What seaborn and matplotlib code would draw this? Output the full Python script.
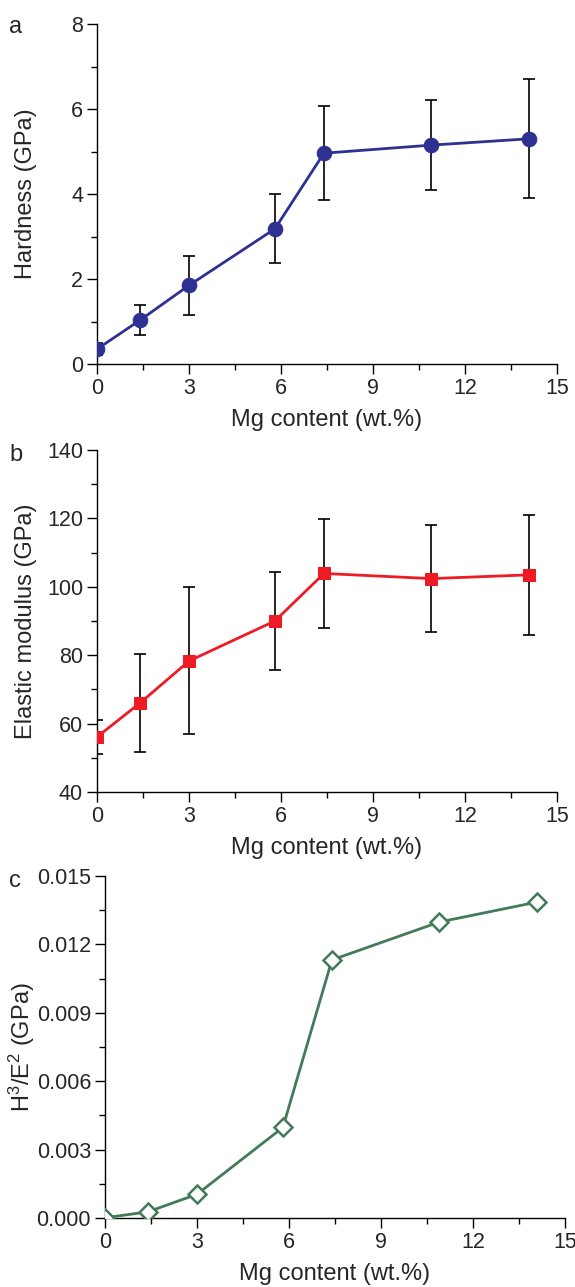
import numpy as np
import pandas as pd
import matplotlib
matplotlib.use("Agg")
import matplotlib.pyplot as plt
from matplotlib.ticker import MultipleLocator, FormatStrFormatter
import seaborn as sns

# Mg content of the coatings (wt.%)
mg_content = [0.0, 1.4, 3.0, 5.8, 7.4, 10.9, 14.1]

# Nanoindentation hardness (GPa) with error bar ends
hardness = [0.35, 1.03, 1.85, 3.18, 4.96, 5.15, 5.30]
hardness_lo = [0.21, 0.68, 1.15, 2.38, 3.87, 4.10, 3.91]
hardness_hi = [0.50, 1.38, 2.54, 4.00, 6.07, 6.21, 6.71]

# Elastic modulus (GPa) with error bar ends
modulus = [56.1, 66.0, 78.3, 90.0, 103.9, 102.4, 103.5]
modulus_lo = [51.2, 51.7, 56.9, 75.8, 88.0, 86.7, 86.0]
modulus_hi = [61.0, 80.3, 100.0, 104.3, 119.9, 118.2, 121.0]

# H^3/E^2 ratio (GPa)
h3_e2 = [0.00001, 0.00027, 0.00104, 0.00397, 0.01132, 0.01298, 0.01386]

sns.set_theme(style="ticks")
plt.rcParams["font.family"] = ["Liberation Sans", "DejaVu Sans"]
plt.rcParams["mathtext.fontset"] = "custom"
plt.rcParams["mathtext.rm"] = "Liberation Sans"
plt.rcParams["mathtext.it"] = "Liberation Sans"

TICK_FS = 15.5
LABEL_FS = 17
BLUE = "#2e3192"
RED = "#ed1c24"
GREEN = "#437a58"

W, H = 575, 1287
fig = plt.figure(figsize=(W / 100, H / 100), dpi=100)
ax_a = fig.add_axes([97 / W, 1 - 364 / H, 460 / W, 340 / H])
ax_b = fig.add_axes([97 / W, 1 - 792 / H, 460 / W, 342 / H])
ax_c = fig.add_axes([105 / W, 1 - 1218 / H, 460 / W, 342 / H])

df = pd.DataFrame({"mg": mg_content, "H": hardness, "E": modulus, "R": h3_e2})


def style_axis(ax, ylim, ymajor, yminor, ylabel, letter, letter_y, yfmt=None):
    ax.set_xlim(0, 15)
    ax.set_ylim(*ylim)
    ax.xaxis.set_major_locator(MultipleLocator(3))
    ax.xaxis.set_minor_locator(MultipleLocator(1.5))
    ax.yaxis.set_major_locator(MultipleLocator(ymajor))
    ax.yaxis.set_minor_locator(MultipleLocator(yminor))
    if yfmt:
        ax.yaxis.set_major_formatter(FormatStrFormatter(yfmt))
    for side in ("top", "right"):
        ax.spines[side].set_visible(False)
    for side in ("left", "bottom"):
        ax.spines[side].set_linewidth(1.0)
        ax.spines[side].set_color("black")
    ax.tick_params(which="major", direction="out", length=7, width=1.0,
                   labelsize=TICK_FS, color="black", pad=3)
    ax.tick_params(which="minor", direction="out", length=4, width=1.0,
                   color="black")
    ax.set_xlabel("Mg content (wt.%)", fontsize=LABEL_FS, labelpad=7)
    ax.set_ylabel(ylabel, fontsize=LABEL_FS)
    # keep the y labels of all panels on one vertical line
    x0 = ax.get_position().x0 * W
    ax.yaxis.set_label_coords((37 - x0) / 460, 0.5)
    fig.text(9 / W, 1 - letter_y / H, letter, fontsize=LABEL_FS,
             va="center", ha="left")


# (a) hardness
ax_a.errorbar(mg_content, hardness,
              yerr=[np.subtract(hardness, hardness_lo), np.subtract(hardness_hi, hardness)],
              fmt="none", ecolor="black", elinewidth=1.2, capsize=4, capthick=1.2, zorder=2)
sns.lineplot(data=df, x="mg", y="H", ax=ax_a, color=BLUE, linewidth=2.0,
             marker="o", markersize=10.5, markeredgecolor=BLUE, zorder=3)
style_axis(ax_a, (0, 8), 2, 1, "Hardness (GPa)", "a", 27)

# (b) elastic modulus
ax_b.errorbar(mg_content, modulus,
              yerr=[np.subtract(modulus, modulus_lo), np.subtract(modulus_hi, modulus)],
              fmt="none", ecolor="black", elinewidth=1.2, capsize=4, capthick=1.2, zorder=2)
sns.lineplot(data=df, x="mg", y="E", ax=ax_b, color=RED, linewidth=2.0,
             marker="s", markersize=9, markeredgecolor=RED, zorder=3)
style_axis(ax_b, (40, 140), 20, 10, "Elastic modulus (GPa)", "b", 455)

# (c) H^3/E^2
sns.lineplot(data=df, x="mg", y="R", ax=ax_c, color=GREEN, linewidth=2.0,
             marker="D", markersize=9.5, markerfacecolor="white",
             markeredgecolor=GREEN, markeredgewidth=1.8, zorder=3)
style_axis(ax_c, (0, 0.015), 0.003, 0.0015,
           r"H$^{3}$/E$^{2}$ (GPa)", "c", 881, yfmt="%.3f")

fig.savefig("out.png", dpi=100)
